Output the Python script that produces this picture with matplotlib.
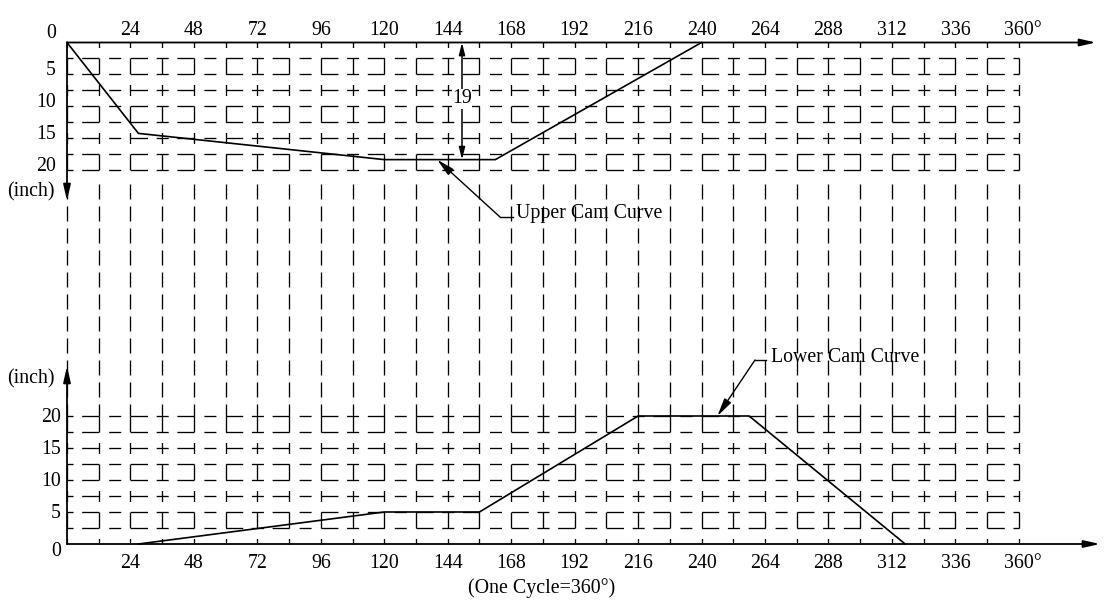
import numpy as np
import matplotlib
matplotlib.use('Agg')
import matplotlib.pyplot as plt

plt.rcParams['font.family'] = ['Liberation Serif', 'DejaVu Serif']
plt.rcParams['lines.scale_dashes'] = False

# ---------------- data ----------------
upper_deg = [0, 27, 120, 162, 240]
upper_depth = [0, 14.2, 18.3, 18.3, 0]          # inch (downwards)
lower_deg = [27, 120, 156, 216, 258, 317]
lower_lift = [0, 5, 5, 20, 20, 0]               # inch (upwards)
x_ticks = [24, 48, 72, 96, 120, 144, 168, 192, 216, 240, 264, 288, 312, 336, 360]
x_tick_labels = ['24', '48', '72', '96', '120', '144', '168', '192', '216', '240',
                 '264', '288', '312', '336', '360°']
y_ticks = [0, 5, 10, 15, 20]
grid_deg = np.arange(0, 361, 12)
grid_inch = np.arange(2.5, 20.01, 2.5)
dimension_label = '19'
upper_name = 'Upper Cam Curve'
lower_name = 'Lower Cam Curve'
cycle_label = '(One Cycle=360°)'
unit_label = '(inch)'

# ---------------- layout ----------------
W, H, DPI = 1107, 605, 100
X0, SX = 67.0, 2.644      # pixel of 0 deg, pixels per degree
LOW0, SY = 544.0, 6.4     # pixel row of lower zero, pixels per inch
UP0 = 42.5                # pixel row of upper zero
P = 72.0 / DPI            # points per pixel
FS = 14.3

def ux(px):
    return (px - X0) / SX

def ud(py):
    return (py - UP0) / SY

def lv(py):
    return (LOW0 - py) / SY

fig = plt.figure(figsize=(W / DPI, H / DPI), dpi=DPI)
ax = fig.add_axes([0, 0, 1, 1])
ax.set_xlim(-X0 / SX, (W - X0) / SX)
ax.set_ylim((LOW0 - H) / SY, LOW0 / SY)
ax.axis('off')
axu = ax.twinx()
axu.set_ylim((H - UP0) / SY, -UP0 / SY)
axu.axis('off')

hdash = (31.7 * P, [17 * P, 8.7 * P, 12 * P, 8.7 * P, 17 * P, 10 * P, 12 * P, 9.8 * P])
vdash = (32 * P, [16 * P, 10.5 * P, 11 * P, 10.5 * P])
gdash = (15 * P, [15 * P, 7 * P])
GLW = 0.95

# grid
for d in grid_inch:
    axu.plot([0, 360], [d, d], ls=hdash, lw=GLW, color='k')
    ax.plot([0, 360], [d, d], ls=hdash, lw=GLW, color='k')
top20 = lv(UP0 + 20 * SY)
for x in grid_deg:
    axu.plot([x, x], [0, 20], ls=vdash, lw=GLW, color='k')
    ax.plot([x, x], [0, 20], ls=vdash, lw=GLW, color='k')
    ax.plot([x, x], [top20 - 1.0, 20], ls=gdash, lw=GLW, color='k')

# axes lines with arrows
arrow_kw = dict(arrowstyle='-|>,head_length=0.8,head_width=0.18', lw=1.3, color='k',
                shrinkA=0, shrinkB=0, mutation_scale=12)
axu.annotate('', xy=(ux(1096), 0), xytext=(0, 0), arrowprops=arrow_kw)
ax.annotate('', xy=(ux(1100), 0), xytext=(0, 0), arrowprops=arrow_kw)
axu.annotate('', xy=(0, ud(201)), xytext=(0, 0), arrowprops=arrow_kw)
ax.annotate('', xy=(0, lv(366)), xytext=(0, 0), arrowprops=arrow_kw)

# curves
axu.plot(upper_deg, upper_depth, color='k', lw=1.2)
ax.plot(lower_deg, lower_lift, color='k', lw=1.2)

# tick labels
for t, lab in zip(x_ticks, x_tick_labels):
    xo = 1.5 if lab.endswith('°') else 0
    axu.text(t + xo, ud(31), lab, ha='center', va='center', fontsize=FS)
    ax.text(t + xo, lv(563), lab, ha='center', va='center', fontsize=FS)
for y in y_ticks:
    axu.text(ux(56), (y - 0.6) if y else ud(33.5), str(y), ha='right', va='center', fontsize=FS)
    ax.text(ux(61), (y - 0.3) if y else lv(552), str(y), ha='right', va='center', fontsize=FS)
axu.text(ux(55), ud(192), unit_label, ha='right', va='center', fontsize=FS)
ax.text(ux(55), lv(379), unit_label, ha='right', va='center', fontsize=FS)
ax.text(ux(542), lv(588), cycle_label, ha='center', va='center', fontsize=FS)

# dimension 19
dim_x = ux(462)
axu.annotate('', xy=(dim_x, 0), xytext=(dim_x, max(upper_depth)),
             arrowprops=dict(arrowstyle='<|-|>,head_length=0.6,head_width=0.15', lw=1.1,
                             color='k', shrinkA=0, shrinkB=0, mutation_scale=12))
axu.text(dim_x, ud(99), dimension_label, ha='center', va='center', fontsize=FS,
         bbox=dict(facecolor='white', edgecolor='none', pad=0.5))

# leader annotations
lead_kw = dict(arrowstyle='-|>,head_length=0.9,head_width=0.2', lw=1.0, color='k',
               shrinkA=0, shrinkB=0, mutation_scale=12)
tip_x = 140
tip_y = np.interp(tip_x, upper_deg, upper_depth)
ex, ey = ux(500), ud(217)
axu.plot([ex, ux(513)], [ey, ey], color='k', lw=1.0)
axu.annotate('', xy=(tip_x, tip_y), xytext=(ex, ey), arrowprops=lead_kw)
axu.text(ux(516), ud(214), upper_name, ha='left', va='center', fontsize=FS)

tip_x2 = 246
tip_y2 = np.interp(tip_x2, lower_deg, lower_lift)
ex2, ey2 = ux(755), lv(360)
ax.plot([ex2, ux(766)], [ey2, ey2], color='k', lw=1.0)
ax.annotate('', xy=(tip_x2, tip_y2), xytext=(ex2, ey2), arrowprops=lead_kw)
ax.text(ux(771), lv(358), lower_name, ha='left', va='center', fontsize=FS)

fig.savefig('out.png', dpi=DPI, facecolor='white')
